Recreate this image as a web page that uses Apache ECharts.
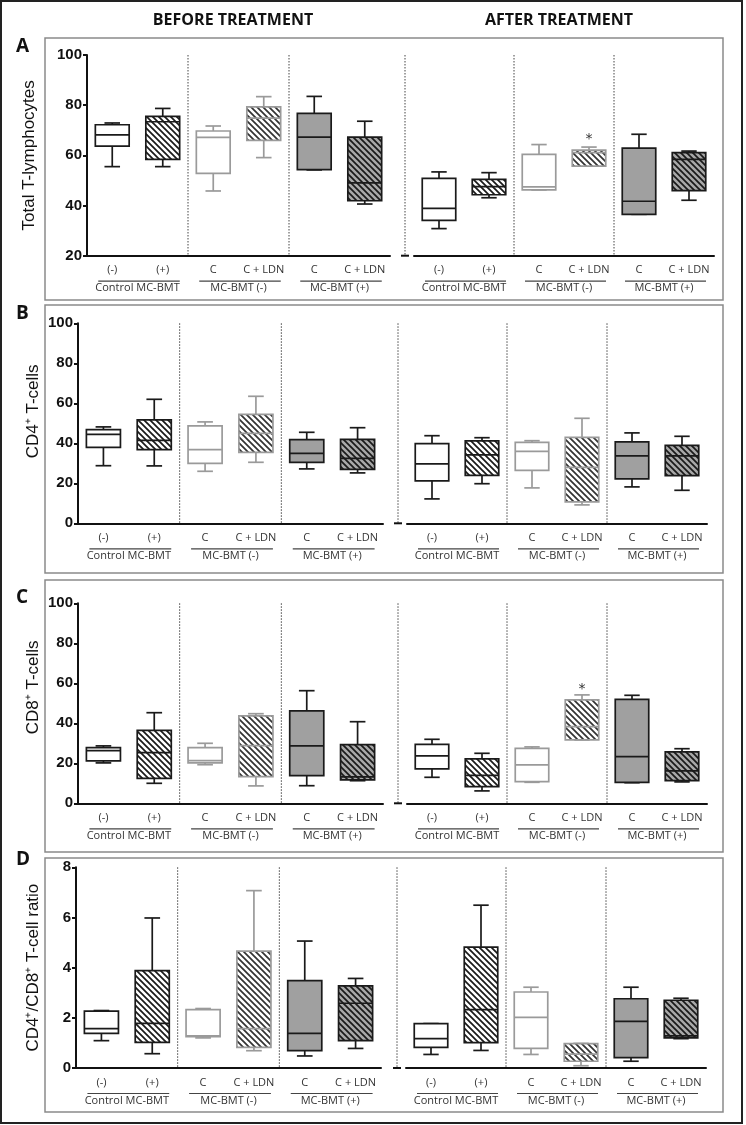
<!DOCTYPE html>
<html>
<head>
<meta charset="utf-8">
<script src="https://cdn.jsdelivr.net/npm/echarts@6/dist/echarts.min.js"></script>
<style>
html, body { margin: 0; padding: 0; background: #fff; }
#chart { width: 746px; height: 1125px; }
</style>
</head>
<body>
<div id="chart"></div>
<script>
// categories
var boxLabels = ['(-)', '(+)', 'C', 'C + LDN', 'C', 'C + LDN'];
var groupLabels = ['Control MC-BMT', 'MC-BMT (-)', 'MC-BMT (+)'];

// each box: [min, Q1, median, Q3, max]
var tLymphBefore = [[55.5, 63.7, 68.2, 72.2, 72.9], [55.5, 58.4, 73.4, 75.5, 78.7], [45.8, 52.8, 67.2, 69.7, 71.7],
                    [59.1, 66.0, 74.8, 79.3, 83.4], [54.2, 54.3, 67.3, 76.7, 83.5], [40.6, 41.9, 49.0, 67.3, 73.6]];
var tLymphAfter  = [[30.8, 34.1, 38.9, 50.8, 53.4], [43.1, 44.3, 47.5, 50.4, 53.1], [46.2, 46.2, 47.4, 60.4, 64.3],
                    [55.7, 55.7, 61.1, 62.1, 63.3], [36.5, 36.5, 41.7, 62.9, 68.4], [42.1, 45.9, 58.4, 61.1, 61.7]];
var cd4Before = [[28.8, 38.0, 44.5, 46.8, 48.2], [28.7, 36.8, 41.5, 51.7, 62.0], [26.0, 30.0, 36.8, 48.7, 50.7],
                 [30.5, 35.5, 45.0, 54.5, 63.5], [27.2, 30.5, 35.0, 41.8, 45.5], [25.2, 27.0, 32.5, 42.0, 47.8]];
var cd4After  = [[12.2, 21.2, 29.7, 39.8, 43.8], [19.8, 24.0, 34.2, 41.2, 42.8], [17.7, 26.5, 36.0, 40.5, 41.3],
                 [9.2, 10.7, 28.0, 43.0, 52.5], [18.2, 22.2, 33.7, 40.7, 45.2], [16.5, 23.8, 33.7, 39.0, 43.5]];
var cd8Before = [[20.2, 21.2, 26.3, 27.8, 28.7], [10.0, 12.5, 25.3, 36.5, 45.3], [19.3, 20.2, 21.3, 27.8, 30.0],
                 [8.7, 13.3, 28.8, 43.7, 44.8], [8.8, 13.8, 28.7, 46.2, 56.3], [11.3, 11.7, 13.2, 29.3, 40.8]];
var cd8After  = [[13.0, 17.2, 23.7, 29.5, 32.0], [6.2, 8.3, 14.0, 22.2, 25.0], [10.5, 10.8, 19.2, 27.5, 28.2],
                 [31.7, 31.7, 38.3, 51.7, 54.2], [10.3, 10.5, 23.3, 52.0, 54.0], [10.7, 11.3, 16.2, 25.7, 27.3]];
var ratioBefore = [[1.09, 1.38, 1.57, 2.27, 2.29], [0.57, 1.02, 1.78, 3.88, 5.98], [1.20, 1.25, 1.28, 2.33, 2.37],
                   [0.69, 0.82, 1.57, 4.66, 7.07], [0.48, 0.69, 1.38, 3.48, 5.06], [0.78, 1.09, 2.58, 3.27, 3.57]];
var ratioAfter  = [[0.54, 0.82, 1.17, 1.77, 1.77], [0.70, 1.01, 2.33, 4.82, 6.49], [0.54, 0.78, 2.02, 3.03, 3.22],
                   [0.09, 0.27, 0.55, 0.97, 0.98], [0.27, 0.41, 1.86, 2.76, 3.22], [1.17, 1.20, 1.28, 2.70, 2.78]];

// significance marks: [box index, value]
var tLymphAfterStars = [[3, 67.7]];
var cd8AfterStars = [[3, 58.3]];

// axis ranges [min, max, interval]
var pctTicks = [20, 100, 20];
var cellTicks = [0, 100, 20];
var ratioTicks = [0, 8, 2];

var panels = [
    { letter: 'A', letterY: 47, name: 'Total T-lymphocytes', ticks: pctTicks, top: 55, height: 200.7, left: 87, width: 303,
      afterLeft: 414, frameY: 38, frameH: 262, nameGap: 49, namePad: 0,
      before: tLymphBefore, after: tLymphAfter, starsBefore: [], starsAfter: tLymphAfterStars },
    { letter: 'B', letterY: 314, name: 'CD4\u207A T-cells', ticks: cellTicks, top: 323.3, height: 200, left: 78, width: 305,
      afterLeft: 407, frameY: 305, frameH: 268, nameGap: 36, namePad: 24,
      before: cd4Before, after: cd4After, starsBefore: [], starsAfter: [] },
    { letter: 'C', letterY: 598, name: 'CD8\u207A T-cells', ticks: cellTicks, top: 603.3, height: 200, left: 78, width: 305,
      afterLeft: 407, frameY: 580, frameH: 272, nameGap: 36, namePad: 32,
      before: cd8Before, after: cd8After, starsBefore: [], starsAfter: cd8AfterStars },
    { letter: 'D', letterY: 860, name: 'CD4\u207A/CD8\u207A T-cell ratio', ticks: ratioTicks, top: 867.3, height: 200.7, left: 76, width: 305,
      afterLeft: 406, frameY: 858, frameH: 254, nameGap: 34, namePad: 0,
      before: ratioBefore, after: ratioAfter, starsBefore: [], starsAfter: [] }
];

function makeHatch(bg, fg) {
    var s = 6;
    var c = document.createElement('canvas');
    c.width = s; c.height = s;
    var ctx = c.getContext('2d');
    ctx.fillStyle = bg;
    ctx.fillRect(0, 0, s, s);
    ctx.strokeStyle = fg;
    ctx.lineWidth = 1.7;
    ctx.beginPath();
    ctx.moveTo(-1, -1); ctx.lineTo(s + 1, s + 1);
    ctx.moveTo(-1, s - 1); ctx.lineTo(1, s + 1);
    ctx.moveTo(s - 1, -1); ctx.lineTo(s + 1, 1);
    ctx.stroke();
    return { image: c, repeat: 'repeat' };
}

var boxStyles = [
    { fill: '#ffffff', stroke: '#1a1a1a' },
    { fill: makeHatch('#ffffff', '#1a1a1a'), stroke: '#1a1a1a' },
    { fill: '#ffffff', stroke: '#9a9a9a' },
    { fill: makeHatch('#ffffff', '#333333'), stroke: '#9a9a9a' },
    { fill: '#a0a0a0', stroke: '#1a1a1a' },
    { fill: makeHatch('#a8a8a8', '#1a1a1a'), stroke: '#1a1a1a' }
];

function renderBox(params, api) {
    var i = api.value(0);
    var cx = api.coord([i, api.value(3)])[0];
    var yMin = api.coord([i, api.value(1)])[1];
    var yQ1 = api.coord([i, api.value(2)])[1];
    var yMed = api.coord([i, api.value(3)])[1];
    var yQ3 = api.coord([i, api.value(4)])[1];
    var yMax = api.coord([i, api.value(5)])[1];
    var bw = api.size([1, 0])[0] * 0.67;
    var cw = bw * 0.46;
    var st = boxStyles[i];
    var ls = { stroke: st.stroke, lineWidth: 1.7 };
    return {
        type: 'group',
        children: [
            { type: 'line', shape: { x1: cx, y1: yQ3, x2: cx, y2: yMax }, style: ls },
            { type: 'line', shape: { x1: cx - cw / 2, y1: yMax, x2: cx + cw / 2, y2: yMax }, style: ls },
            { type: 'line', shape: { x1: cx, y1: yQ1, x2: cx, y2: yMin }, style: ls },
            { type: 'line', shape: { x1: cx - cw / 2, y1: yMin, x2: cx + cw / 2, y2: yMin }, style: ls },
            { type: 'rect', shape: { x: cx - bw / 2, y: yQ3, width: bw, height: yQ1 - yQ3 },
              style: { fill: st.fill, stroke: st.stroke, lineWidth: 1.7 } },
            { type: 'line', shape: { x1: cx - bw / 2, y1: yMed, x2: cx + bw / 2, y2: yMed }, style: ls }
        ]
    };
}

function renderStar(params, api) {
    var p = api.coord([api.value(0), api.value(1)]);
    return {
        type: 'text', x: p[0], y: p[1] + 3,
        style: { text: '*', align: 'center', verticalAlign: 'middle', fontSize: 14, fontFamily: 'DejaVu Sans', fill: '#333' }
    };
}

var grid = [], xAxis = [], yAxis = [], series = [], graphic = [];
var font = 'Open Sans';
var dotted = { stroke: '#444', lineWidth: 1, lineDash: [1.5, 1.5] };

graphic.push({ type: 'rect', shape: { x: 1, y: 1, width: 741, height: 1122 }, style: { fill: 'none', stroke: '#222', lineWidth: 2 } });
graphic.push({ type: 'text', x: 233, y: 20, style: { text: 'BEFORE TREATMENT', align: 'center', verticalAlign: 'middle',
    fontSize: 16, fontWeight: 'bold', fontFamily: font, fill: '#111' } });
graphic.push({ type: 'text', x: 559, y: 20, style: { text: 'AFTER TREATMENT', align: 'center', verticalAlign: 'middle',
    fontSize: 16, fontWeight: 'bold', fontFamily: font, fill: '#111' } });

panels.forEach(function (p) {
    var parts = [
        { left: p.left, width: p.width, boxes: p.before, stars: p.starsBefore, showY: true },
        { left: p.afterLeft, width: 300, boxes: p.after, stars: p.starsAfter, showY: false }
    ];
    var bottom = p.top + p.height;

    graphic.push({ type: 'rect', shape: { x: 45, y: p.frameY, width: 678, height: p.frameH },
        style: { fill: 'none', stroke: '#8a8a8a', lineWidth: 1.5 } });
    graphic.push({ type: 'text', x: 16, y: p.letterY, style: { text: p.letter, align: 'left', verticalAlign: 'middle',
        fontSize: 19, fontWeight: 'bold', fontFamily: font, fill: '#111' } });
    // axis break
    graphic.push({ type: 'line', shape: { x1: p.afterLeft - 9, y1: p.top, x2: p.afterLeft - 9, y2: bottom }, style: dotted });
    graphic.push({ type: 'line', shape: { x1: p.afterLeft - 13, y1: bottom, x2: p.afterLeft - 5, y2: bottom },
        style: { stroke: '#111', lineWidth: 2 } });

    parts.forEach(function (part) {
        var gi = grid.length;
        grid.push({ left: part.left, top: p.top, width: part.width, height: p.height });
        xAxis.push({
            gridIndex: gi, type: 'category', data: boxLabels, boundaryGap: true,
            axisLine: { lineStyle: { color: '#111', width: 2 } },
            axisTick: { alignWithLabel: true, length: 4, lineStyle: { color: '#111', width: 2 } },
            axisLabel: { interval: 0, margin: 9, fontSize: 11, fontFamily: font, color: '#333' },
            splitLine: { show: false }
        });
        xAxis.push({
            gridIndex: gi, type: 'category', data: groupLabels, position: 'bottom', offset: 21,
            axisLine: { show: false }, axisTick: { show: false }, splitLine: { show: false },
            axisLabel: { interval: 0, margin: 6, fontSize: 11, fontFamily: font, color: '#333' }
        });
        yAxis.push({
            gridIndex: gi, type: 'value', show: part.showY,
            min: p.ticks[0], max: p.ticks[1], interval: p.ticks[2],
            axisLine: { show: true, lineStyle: { color: '#111', width: 2 } },
            axisTick: { show: true, length: 4, lineStyle: { color: '#111', width: 2 } },
            axisLabel: { margin: 5, fontSize: 15, fontWeight: 'bold', fontFamily: 'Liberation Sans', color: '#111' },
            splitLine: { show: false },
            name: part.showY ? p.name : '', nameLocation: 'middle', nameGap: p.nameGap,
            nameTextStyle: { fontSize: 17, fontFamily: 'Liberation Sans', color: '#111', padding: [0, 0, 0, p.namePad] }
        });
        series.push({
            type: 'custom', xAxisIndex: 2 * gi, yAxisIndex: gi, renderItem: renderBox,
            encode: { x: 0, y: [1, 2, 3, 4, 5] },
            data: part.boxes.map(function (b, i) { return [i].concat(b); })
        });
        if (part.stars.length) {
            series.push({
                type: 'custom', xAxisIndex: 2 * gi, yAxisIndex: gi, renderItem: renderStar,
                encode: { x: 0, y: 1 }, data: part.stars
            });
        }
        var slot = part.width / 6;
        // dotted separators between groups
        [2, 4].forEach(function (b) {
            var x = part.left + slot * b;
            graphic.push({ type: 'line', shape: { x1: x, y1: p.top, x2: x, y2: bottom }, style: dotted });
        });
        // group underlines
        for (var k = 0; k < 3; k++) {
            var x1 = part.left + slot * (2 * k + 0.5) - 14;
            var x2 = part.left + slot * (2 * k + 1.5) + 17;
            graphic.push({ type: 'line', shape: { x1: x1, y1: bottom + 25.5, x2: x2, y2: bottom + 25.5 },
                style: { stroke: '#444', lineWidth: 1.2 } });
        }
    });
});

var chart = echarts.init(document.getElementById('chart'));
chart.setOption({
    animation: false,
    backgroundColor: '#fff',
    grid: grid,
    xAxis: xAxis,
    yAxis: yAxis,
    series: series,
    graphic: graphic
});
</script>
</body>
</html>
